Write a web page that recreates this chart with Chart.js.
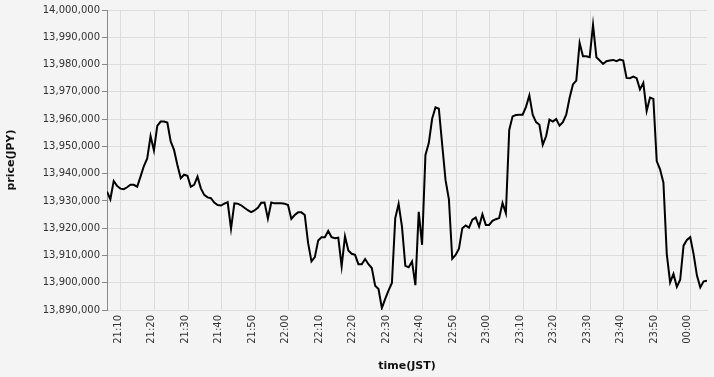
<!DOCTYPE html>
<html>
<head>
<meta charset="utf-8">
<script src="https://cdn.jsdelivr.net/npm/chart.js@4/dist/chart.umd.min.js"></script>
<style>
    html, body { margin: 0; padding: 0; background: #f4f4f4; }
    #wrap { width: 714px; height: 377px; position: relative; }
</style>
</head>
<body>
<div id="wrap"><canvas id="priceChart"></canvas></div>
<script>
// one sample per minute, first one at 21:05:50 JST
const startTime = '21:05:50';
const prices = [
    13933400, 13930600, 13937300, 13935500, 13934500, 13934300, 13935000, 13935900, 13935900, 13935200,
    13938900, 13942800, 13945600, 13953800, 13948500, 13957500, 13959100, 13959100, 13958700, 13951800,
    13948700, 13943200, 13938300, 13939600, 13939200, 13935200, 13935900, 13938900, 13934600, 13932200,
    13931300, 13931000, 13929400, 13928500, 13928300, 13929000, 13929500, 13919800, 13929100, 13929000,
    13928400, 13927500, 13926600, 13925900, 13926500, 13927500, 13929300, 13929400, 13923500, 13929400,
    13929100, 13929100, 13929100, 13929000, 13928500, 13923400, 13924800, 13925800, 13925800, 13924800,
    13914500, 13907800, 13909400, 13915500, 13916700, 13916700, 13919000, 13916700, 13916300, 13916500,
    13906000, 13917000, 13911800, 13910600, 13910200, 13906800, 13906800, 13908700, 13906800, 13905400,
    13898900, 13897700, 13890700, 13894100, 13897200, 13899900, 13923700, 13928900, 13920600, 13906200,
    13905700, 13907800, 13899100, 13926000, 13913900, 13946800, 13951200, 13960100, 13964300, 13963800,
    13950600, 13937600, 13930600, 13908800, 13910200, 13912500, 13920000, 13921000, 13920200, 13923100,
    13923900, 13920600, 13925100, 13921200, 13921200, 13922700, 13923300, 13923700, 13929200, 13925500,
    13956000, 13961000, 13961500, 13961600, 13961600, 13964500, 13968700, 13961600, 13958900, 13957900,
    13950600, 13953700, 13959800, 13959100, 13960000, 13957600, 13958900, 13961600, 13967700, 13972700,
    13974100, 13987900, 13983000, 13983000, 13982700, 13994500, 13982700, 13981500, 13980200, 13981200,
    13981500, 13981700, 13981200, 13981800, 13981500, 13975100, 13975000, 13975600, 13975000, 13970900,
    13973300, 13963000, 13967900, 13967400, 13944600, 13941600, 13936700, 13910500, 13900100, 13903200,
    13898500, 13901100, 13913600, 13915700, 13916700, 13910500, 13902600, 13898300, 13900500, 13900700
];
const xTickLabels = ['21:10', '21:20', '21:30', '21:40', '21:50', '22:00', '22:10', '22:20', '22:30',
    '22:40', '22:50', '23:00', '23:10', '23:20', '23:30', '23:40', '23:50', '00:00'];
const yMin = 13890000;
const yMax = 14000000;
const yStep = 10000;

// minutes counted from 21:00, so that 00:00 comes after 23:59
function toMinutes(hms) {
    const [h, m, s] = hms.split(':').map(Number);
    const hour = h < 12 ? h + 24 : h;
    return (hour - 21) * 60 + m + (s || 0) / 60;
}

function formatMinutes(v) {
    const total = Math.round(v);
    const h = (21 + Math.floor(total / 60)) % 24;
    const m = total % 60;
    return String(h).padStart(2, '0') + ':' + String(m).padStart(2, '0');
}

const t0 = toMinutes(startTime);
const points = prices.map((p, i) => ({ x: t0 + i, y: p }));

Chart.defaults.font.family = "'DejaVu Sans', sans-serif";
Chart.defaults.font.size = 10;
Chart.defaults.color = '#333333';

new Chart(document.getElementById('priceChart'), {
    type: 'line',
    data: {
        datasets: [{
            label: 'price',
            data: points,
            borderColor: '#000000',
            borderWidth: 2,
            pointRadius: 0,
            tension: 0,
            fill: false
        }]
    },
    options: {
        responsive: true,
        maintainAspectRatio: false,
        animation: false,
        layout: { padding: { top: 10, right: 7, left: 0, bottom: 0 } },
        plugins: {
            legend: { display: false },
            tooltip: { enabled: false }
        },
        scales: {
            x: {
                type: 'linear',
                min: points[0].x,
                max: points[points.length - 1].x,
                afterBuildTicks: (scale) => {
                    scale.ticks = xTickLabels.map(t => ({ value: toMinutes(t) }));
                },
                afterFit: (scale) => { scale.height = 67; },
                grid: { color: '#dcdcdc', drawTicks: false },
                border: { color: '#dcdcdc' },
                ticks: {
                    minRotation: 90,
                    maxRotation: 90,
                    padding: 5,
                    labelOffset: -3,
                    callback: (v) => formatMinutes(v)
                },
                title: {
                    display: true,
                    text: 'time(JST)',
                    color: '#111111',
                    font: { size: 11, weight: 'bold' }
                }
            },
            y: {
                min: yMin,
                max: yMax,
                afterFit: (scale) => { scale.width = 107; },
                grid: { color: '#dcdcdc', tickColor: '#888888', tickLength: 5 },
                border: { color: '#888888' },
                ticks: {
                    stepSize: yStep,
                    padding: 2,
                    callback: (v) => v.toLocaleString('en-US')
                },
                title: {
                    display: true,
                    text: 'price(JPY)',
                    color: '#111111',
                    padding: { top: 5, bottom: 4 },
                    font: { size: 11, weight: 'bold' }
                }
            }
        }
    }
});
</script>
</body>
</html>
